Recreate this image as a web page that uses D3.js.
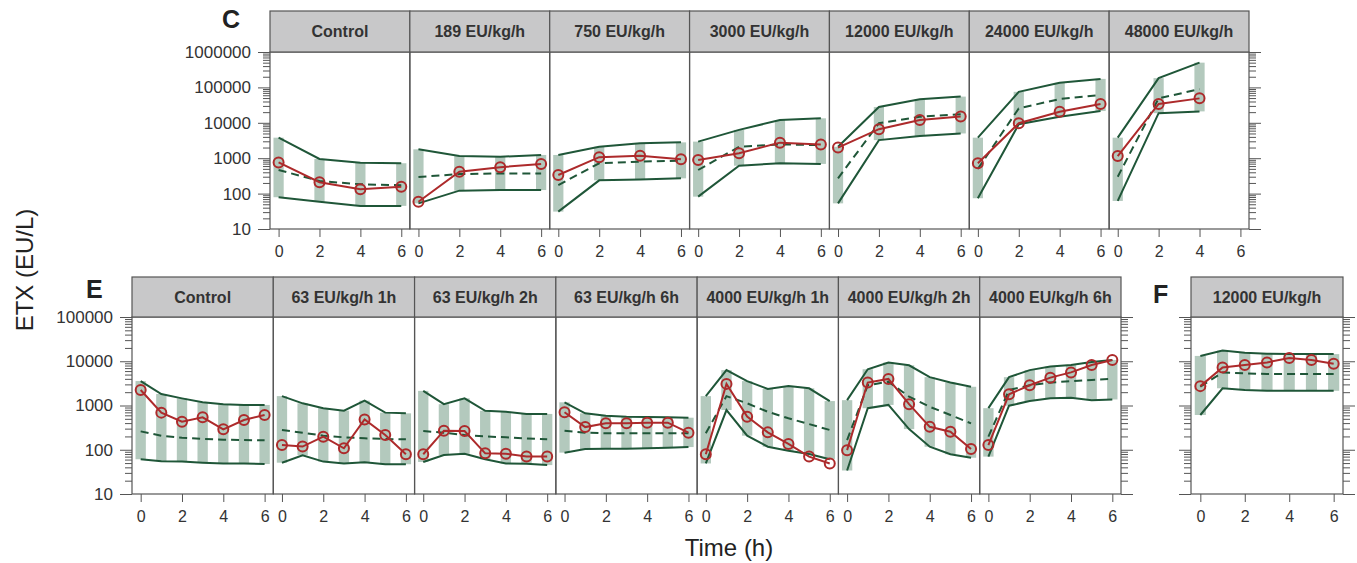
<!DOCTYPE html>
<html><head><meta charset="utf-8">
<script src="https://cdn.jsdelivr.net/npm/d3@7"></script>
<style>
body{margin:0;background:#fff}
svg{display:block}
text{font-family:"Liberation Sans",Arial,Helvetica,sans-serif}
</style>
</head><body><svg id="chart" width="1357" height="563"></svg>
<script>
// ---------------- DATA ----------------
const xTicks = [0, 2, 4, 6];
const yTicksC = [10, 100, 1000, 10000, 100000, 1000000];
const yTicksE = [10, 100, 1000, 10000, 100000];

// Panel C
const panelsC = ["Control", "189 EU/kg/h", "750 EU/kg/h", "3000 EU/kg/h", "12000 EU/kg/h", "24000 EU/kg/h", "48000 EU/kg/h"];
const timesC = [0, 2, 4, 6];
const hiC = [
  [3800, 950, 745, 720],
  [1780, 1150, 1100, 1235],
  [1235, 2100, 2630, 2800],
  [2940, 6300, 12000, 13400],
  [2100, 28000, 46000, 55000],
  [3800, 75000, 135000, 174000],
  [3800, 183000, 500000]
];
const loC = [
  [79, 59, 45, 45],
  [53, 121, 126, 126],
  [31, 237, 252, 270],
  [82, 614, 720, 690],
  [53, 3240, 4240, 5000],
  [74, 9100, 14800, 21500],
  [62, 18700, 21000]
];
const medC = [
  [464, 227, 183, 173],
  [295, 355, 372, 372],
  [174, 720, 800, 850],
  [464, 2100, 2450, 2350],
  [270, 9700, 14800, 17400],
  [500, 25500, 47000, 61000],
  [300, 49000, 89000]
];
const obsC = [
  [760, 210, 132, 156],
  [59, 415, 555, 690],
  [335, 1070, 1180, 930],
  [890, 1380, 2750, 2450],
  [2000, 6600, 12000, 15100],
  [720, 9700, 20500, 34000],
  [1150, 34000, 49000]
];

// Panel E
const panelsE = ["Control", "63 EU/kg/h 1h", "63 EU/kg/h 2h", "63 EU/kg/h 6h", "4000 EU/kg/h 1h", "4000 EU/kg/h 2h", "4000 EU/kg/h 6h"];
const timesE = [0, 1, 2, 3, 4, 5, 6];
const hiE = [
  [3570, 1820, 1450, 1180, 1070, 1030, 1030],
  [1630, 1120, 870, 765, 1290, 690, 665],
  [2140, 1070, 1450, 760, 720, 645, 645],
  [1180, 665, 585, 560, 550, 540, 530],
  [1630, 6300, 3560, 2360, 2740, 2450, 1260],
  [1320, 6600, 9400, 8100, 4370, 3300, 2650],
  [870, 4370, 6300, 7570, 8220, 9570, 10700]
];
const loE = [
  [61, 55, 54, 51, 49, 49, 47.5],
  [51, 75, 54, 49, 52, 47, 47],
  [53, 76, 81, 61, 49, 48, 45],
  [86, 104, 106, 106, 108, 111, 115],
  [49, 790, 208, 117, 95, 80, 61],
  [34, 870, 1030, 293, 117, 79, 66],
  [70, 990, 1260, 1450, 1500, 1320, 1370]
];
const medE = [
  [260, 208, 187, 175, 169, 166, 163],
  [280, 243, 208, 191, 181, 175, 172],
  [265, 243, 215, 200, 191, 180, 172],
  [270, 243, 235, 235, 235, 235, 235],
  [235, 1630, 1120, 720, 515, 380, 280],
  [165, 2870, 3460, 1590, 935, 610, 395],
  [197, 2240, 2870, 3300, 3540, 3780, 3990]
];
const obsE = [
  [2240, 690, 430, 540, 290, 470, 610],
  [128, 118, 197, 108, 485, 215, 79],
  [79, 270, 265, 83, 81, 70, 70],
  [705, 325, 395, 395, 410, 410, 243],
  [79, 3080, 560, 247, 135, 70, 49],
  [98, 3300, 3990, 1070, 330, 255, 104],
  [128, 1790, 2870, 4260, 5600, 8220, 10700]
];

// Panel F
const panelsF = ["12000 EU/kg/h"];
const timesF = [0, 1, 2, 3, 4, 5, 6];
const hiF = [[13200, 17400, 15500, 14800, 14500, 14500, 14500]];
const loF = [[610, 2450, 2240, 2150, 2150, 2150, 2150]];
const medF = [[2650, 5600, 5330, 5150, 5150, 5150, 5150]];
const obsF = [[2740, 7220, 8220, 9400, 11800, 10700, 8800]];

// ---------------- STYLE ----------------
const GREEN = "#1f5638";
const BAND = "#b3c9bd";
const RED = "#ad2a2b";
const BORDER = "#555";
const STRIP = "#c8c8c9";
const TXT = "#333";

const svg = d3.select("#chart");

function minorTicks(domain) {
  const out = [];
  for (let p = Math.log10(domain[0]); p < Math.log10(domain[1]); p++) {
    for (let m = 2; m <= 9; m++) out.push(m * Math.pow(10, p));
  }
  return out;
}

function drawRow(cfg) {
  const n = cfg.panels.length;
  const w = (cfg.right - cfg.left) / n;
  const y = d3.scaleLog().domain(cfg.yDomain).range([cfg.bottom, cfg.top]);
  const g = svg.append("g");

  cfg.panels.forEach((name, i) => {
    const x0 = cfg.left + i * w;
    const x = d3.scaleLinear().domain([-0.42, 6.42]).range([x0, x0 + w]);
    const pts = cfg.hi[i].map((_, k) => ({
      t: cfg.times[k], hi: cfg.hi[i][k], lo: cfg.lo[i][k], med: cfg.med[i][k], obs: cfg.obs[i][k]
    }));
    const pg = g.append("g");
    const bw = x(0.25) - x(-0.25);

    pg.selectAll("rect.band").data(pts).join("rect")
      .attr("class", "band")
      .attr("x", d => x(d.t) - bw / 2)
      .attr("y", d => y(d.hi))
      .attr("width", bw)
      .attr("height", d => y(d.lo) - y(d.hi))
      .attr("fill", BAND);

    const mk = key => d3.line().x(d => x(d.t)).y(d => y(d[key]))(pts);
    pg.append("path").attr("d", mk("hi")).attr("fill", "none").attr("stroke", GREEN).attr("stroke-width", 2);
    pg.append("path").attr("d", mk("lo")).attr("fill", "none").attr("stroke", GREEN).attr("stroke-width", 2);
    pg.append("path").attr("d", mk("med")).attr("fill", "none").attr("stroke", GREEN)
      .attr("stroke-width", 2).attr("stroke-dasharray", "8,5");
    pg.append("path").attr("d", mk("obs")).attr("fill", "none").attr("stroke", RED).attr("stroke-width", 2);
    pg.selectAll("circle").data(pts).join("circle")
      .attr("cx", d => x(d.t)).attr("cy", d => y(d.obs)).attr("r", 5)
      .attr("fill", "none").attr("stroke", RED).attr("stroke-width", 2);

    // x axis
    const ax = pg.append("g").attr("transform", `translate(0,${cfg.bottom})`)
      .call(d3.axisBottom(x).tickValues(xTicks).tickSize(8).tickPadding(9).tickFormat(d3.format("d")));
    ax.select(".domain").remove();
    ax.selectAll("line").attr("stroke", BORDER);
    ax.selectAll("text").attr("fill", TXT).style("font-size", "16px")
      .style("font-family", '"Liberation Sans",Arial,sans-serif');

    // panel border
    pg.append("rect").attr("x", x0).attr("y", cfg.top).attr("width", w).attr("height", cfg.bottom - cfg.top)
      .attr("fill", "none").attr("stroke", BORDER).attr("stroke-width", 1.2);
    // strip
    pg.append("rect").attr("x", x0).attr("y", cfg.stripTop).attr("width", w).attr("height", cfg.top - cfg.stripTop)
      .attr("fill", STRIP).attr("stroke", BORDER).attr("stroke-width", 1.2);
    pg.append("text").attr("x", x0 + w / 2).attr("y", (cfg.stripTop + cfg.top) / 2).attr("dy", "0.36em")
      .attr("text-anchor", "middle").attr("font-weight", "bold").attr("font-size", 16).attr("fill", TXT)
      .text(name);
  });

  // y axes
  const minors = minorTicks(cfg.yDomain);
  function yAxis(side, xpos, labels) {
    const gen = side === "left" ? d3.axisLeft(y) : d3.axisRight(y);
    const a1 = g.append("g").attr("transform", `translate(${xpos},0)`)
      .call(gen.tickValues(cfg.yTicks).tickSize(12).tickPadding(7)
        .tickFormat(labels ? d3.format("d") : () => ""));
    a1.select(".domain").remove();
    a1.selectAll("line").attr("stroke", BORDER);
    a1.selectAll("text").attr("fill", TXT).style("font-size", "17px")
      .style("font-family", '"Liberation Sans",Arial,sans-serif');
    const gen2 = side === "left" ? d3.axisLeft(y) : d3.axisRight(y);
    const a2 = g.append("g").attr("transform", `translate(${xpos},0)`)
      .call(gen2.tickValues(minors).tickSize(7).tickFormat(() => ""));
    a2.select(".domain").remove();
    a2.selectAll("line").attr("stroke", BORDER);
  }
  if (cfg.leftAxis) yAxis("left", cfg.left, cfg.yLabels);
  if (cfg.rightAxis) yAxis("right", cfg.right, false);
}

drawRow({ panels: panelsC, times: timesC, hi: hiC, lo: loC, med: medC, obs: obsC,
  left: 270, right: 1249, stripTop: 11, top: 52, bottom: 229,
  yDomain: [10, 1000000], yTicks: yTicksC, leftAxis: true, rightAxis: true, yLabels: true });

drawRow({ panels: panelsE, times: timesE, hi: hiE, lo: loE, med: medE, obs: obsE,
  left: 132, right: 1121, stripTop: 277, top: 317, bottom: 494,
  yDomain: [10, 100000], yTicks: yTicksE, leftAxis: true, rightAxis: true, yLabels: true });

drawRow({ panels: panelsF, times: timesF, hi: hiF, lo: loF, med: medF, obs: obsF,
  left: 1191, right: 1343, stripTop: 277, top: 317, bottom: 494,
  yDomain: [10, 100000], yTicks: yTicksE, leftAxis: true, rightAxis: true, yLabels: false });

// panel letters & titles
const letters = [["C", 222, 28], ["E", 86, 298], ["F", 1153, 303]];
svg.selectAll("text.letter").data(letters).join("text").attr("class", "letter")
  .attr("x", d => d[1]).attr("y", d => d[2]).attr("font-size", 25).attr("font-weight", "bold")
  .attr("fill", "#222").text(d => d[0]);

svg.append("text").attr("transform", "translate(33,270) rotate(-90)").attr("text-anchor", "middle")
  .attr("font-size", 24).attr("fill", "#222").text("ETX (EU/L)");
svg.append("text").attr("x", 729).attr("y", 556).attr("text-anchor", "middle")
  .attr("font-size", 24).attr("fill", "#222").text("Time (h)");
</script>
</body></html>
